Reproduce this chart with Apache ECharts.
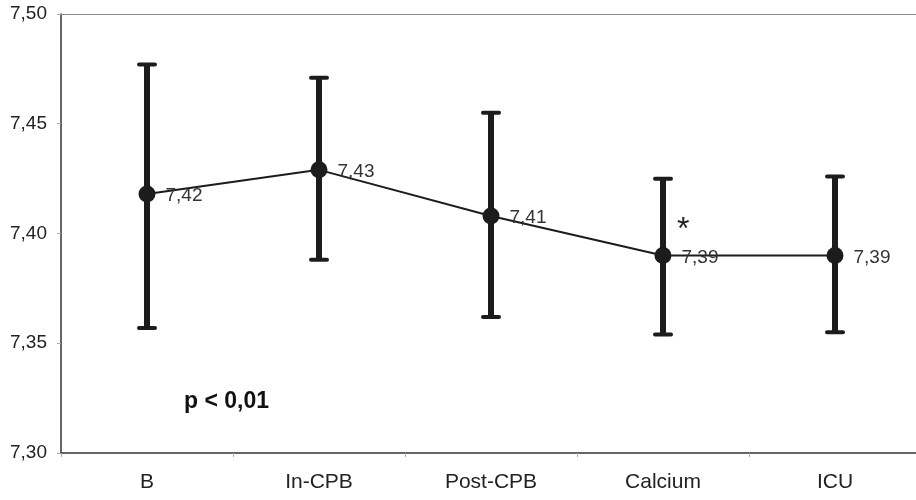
<!DOCTYPE html>
<html><head><meta charset="utf-8">
<script src="https://cdn.jsdelivr.net/npm/echarts@6/dist/echarts.min.js"></script>
<style>html,body{margin:0;padding:0;background:#fff;overflow:hidden}#c{width:921px;height:500px}</style>
</head><body><div id="c"></div>
<script>
var categories = ['B', 'In-CPB', 'Post-CPB', 'Calcium', 'ICU'];
var means = [7.418, 7.429, 7.408, 7.390, 7.390];
var upper = [7.477, 7.471, 7.455, 7.425, 7.426];
var lower = [7.357, 7.388, 7.362, 7.354, 7.355];
var yTicks = [7.30, 7.35, 7.40, 7.45, 7.50];

function fmt(v){ return Number(v).toFixed(2).replace('.', ','); }

var chart = echarts.init(document.getElementById('c'));
var errData = categories.map(function(c, i){ return [i, lower[i], upper[i]]; });
var FF = 'Liberation Sans, Arial, sans-serif';

chart.setOption({
  animation: false,
  backgroundColor: '#fff',
  textStyle: { fontFamily: FF },
  grid: { left: 61, top: 14, right: 0, bottom: 47, show: false },
  xAxis: [{
    type: 'category', data: categories, boundaryGap: true,
    axisLine: { lineStyle: { color: '#333', width: 1.5 } },
    axisTick: { show: true, length: 4, lineStyle: { color: '#aaa' } },
    axisLabel: { color: '#222', fontSize: 21, margin: 19 },
    splitLine: { show: false }
  }, {
    type: 'category', data: categories, position: 'top',
    axisLine: { show: true, lineStyle: { color: '#8a8a8a', width: 1 } },
    axisTick: { show: false }, axisLabel: { show: false }, splitLine: { show: false }
  }],
  yAxis: {
    type: 'value', min: yTicks[0], max: yTicks[yTicks.length-1], interval: 0.05,
    axisLine: { show: true, lineStyle: { color: '#333', width: 1.5 } },
    axisTick: { show: true, length: 4, lineStyle: { color: '#aaa' } },
    axisLabel: { color: '#222', fontSize: 19, margin: 14, formatter: fmt },
    splitLine: { show: false }
  },
  series: [
    {
      type: 'custom',
      data: errData,
      z: 3,
      renderItem: function(params, api){
        var x = api.value(0);
        var lo = api.coord([x, api.value(1)]);
        var hi = api.coord([x, api.value(2)]);
        var cw = 8;
        var st = { stroke: '#1c1c1c', lineWidth: 6 };
        var capSt = { stroke: '#1c1c1c', lineWidth: 4, lineCap: 'round' };
        return { type: 'group', children: [
          { type: 'line', shape: { x1: hi[0], y1: hi[1], x2: lo[0], y2: lo[1] }, style: st },
          { type: 'line', shape: { x1: hi[0]-cw, y1: hi[1], x2: hi[0]+cw, y2: hi[1] }, style: capSt },
          { type: 'line', shape: { x1: lo[0]-cw, y1: lo[1], x2: lo[0]+cw, y2: lo[1] }, style: capSt }
        ]};
      }
    },
    {
      type: 'line',
      data: means,
      z: 4,
      symbol: 'circle', symbolSize: 17,
      lineStyle: { color: '#1c1c1c', width: 2 },
      itemStyle: { color: '#1c1c1c' },
      label: { show: true, position: 'right', distance: 10, offset: [0, 2], color: '#333', fontSize: 19, formatter: function(p){ return fmt(p.value); } }
    }
  ],
  graphic: [
    { type: 'text', left: 184, top: 390, style: { text: 'p < 0,01', fontSize: 23, fontWeight: 'bold', fill: '#111', fontFamily: FF } },
    { type: 'text', left: 677, top: 214, style: { text: '*', fontSize: 32, fill: '#222', fontFamily: FF } }
  ]
});
</script></body></html>
